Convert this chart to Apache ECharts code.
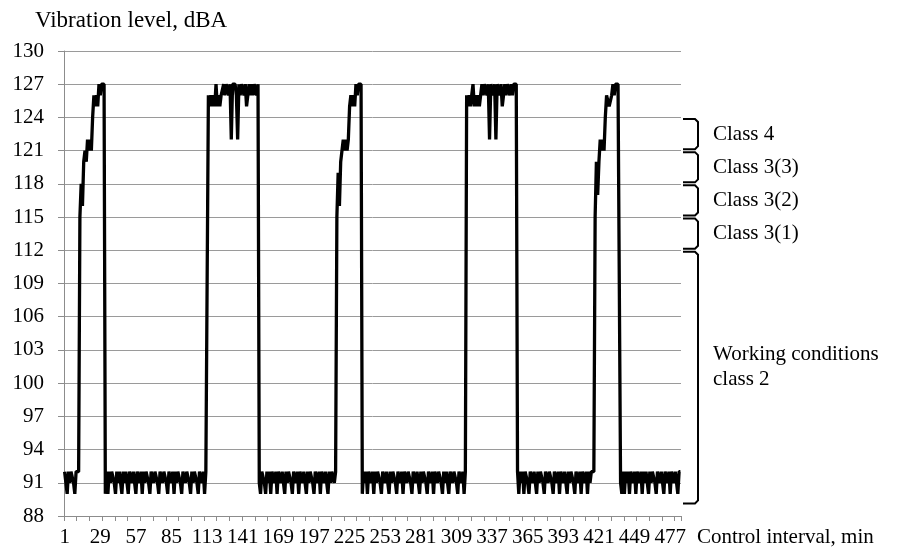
<!DOCTYPE html>
<html><head><meta charset="utf-8">
<script src="https://cdn.jsdelivr.net/npm/echarts@6/dist/echarts.min.js"></script>
<style>html,body{margin:0;padding:0;background:#fff}#c{width:901px;height:551px}</style>
</head><body><div id="c"></div>
<script>
// ---- data (vibration level, dBA, per control minute) ----
const base0 = [92, 92, 90, 92, 91, 92, 92, 91, 90, 92, 92, 92];
const peak1 = [115, 118, 116, 120, 121, 120, 122, 121, 122, 121, 124, 126, 125, 126, 125, 127, 126, 127, 127, 127];
const base1 = [
  90, 92, 90, 92, 91, 92, 92, 91, 90, 92,
  91, 92, 92, 90, 92, 91, 92, 92, 90, 92,
  92, 91, 92, 91, 90, 92, 92, 91, 92, 90,
  92, 91, 92, 92, 91, 90, 92, 92, 91, 92,
  92, 91, 90, 92, 92, 91, 92, 92, 91, 90,
  92, 92, 91, 92, 90, 92, 91, 92, 92, 91,
  90, 92, 92, 91, 92, 92, 91, 90, 92, 91,
  92, 92, 91, 90, 92, 92, 91, 92, 90, 92,
  92];
const peak2 = [
  126, 125, 126, 125, 126, 125, 127, 125, 126, 125,
  126, 126, 127, 126, 127, 127, 126, 127, 122, 127,
  127, 127, 126, 122, 127, 126, 127, 127, 126, 127,
  125, 126, 127, 126, 127, 126, 127, 127, 126, 127];
const base2 = [
  91, 90, 92, 92, 91, 90, 92, 91, 92, 90,
  92, 92, 91, 92, 90, 92, 92, 91, 92, 92,
  90, 92, 91, 92, 92, 91, 90, 92, 92, 91,
  92, 90, 92, 92, 91, 92, 92, 90, 92, 91,
  92, 92, 91, 90, 92, 92, 91, 92, 90, 92,
  92, 91, 92, 92, 90, 92, 91, 92, 92, 91,
  92];
const peak3 = [115, 119, 116, 120, 120, 122, 121, 122, 121, 122, 125, 126, 125, 126, 125, 127, 126, 127, 127, 127];
const base3 = [
  90, 92, 91, 92, 90, 92, 92, 91, 92, 90,
  92, 91, 92, 92, 91, 90, 92, 92, 91, 92,
  92, 90, 92, 91, 92, 92, 91, 90, 92, 92,
  91, 92, 90, 92, 92, 91, 92, 92, 91, 90,
  92, 92, 91, 92, 92, 90, 92, 91, 92, 92,
  91, 90, 92, 92, 91, 92, 90, 92, 92, 91,
  92, 92, 91, 90, 92, 91, 92, 92, 90, 92,
  92, 91, 92, 92, 91, 90, 92, 92, 91, 92,
  90, 92];
const peak4 = [
  126, 125, 126, 125, 126, 127, 125, 126, 125, 126,
  125, 126, 127, 126, 127, 127, 126, 127, 122, 127,
  127, 126, 127, 122, 127, 127, 126, 127, 125, 126,
  127, 126, 127, 127, 126, 127, 126, 127, 127, 127];
const base4 = [
  92, 90, 92, 91, 92, 90, 92, 92, 91, 90,
  92, 92, 91, 92, 92, 90, 92, 91, 92, 92,
  91, 90, 92, 92, 91, 92, 92, 91, 90, 92,
  92, 91, 92, 90, 92, 92, 91, 92, 92, 90,
  92, 91, 92, 92, 91, 90, 92, 92, 91, 92,
  90, 92, 92, 91, 92, 90, 92, 91, 92, 92,
  92];
const peak5 = [115, 120, 117, 120, 122, 121, 122, 121, 124, 126, 126, 125, 125, 126, 127, 126, 127, 127, 127, 127];
const base5 = [
  91, 90, 92, 90, 92, 91, 92, 90, 92, 92,
  91, 92, 90, 92, 92, 91, 92, 90, 92, 91,
  92, 92, 90, 92, 91, 92, 92, 91, 90, 92,
  92, 91, 92, 92, 90, 92, 92, 91, 92, 90,
  92, 92, 91, 92, 92, 90, 92, 92];

const levels = [].concat(base0, peak1, base1, peak2, base2, peak3, base3, peak4, base4, peak5, base5);
const categories = levels.map((_, i) => String(i + 1));   // control interval, min

const yMin = 88, yMax = 130, yStep = 3;
const labelEvery = 28;   // x labels 1, 29, 57, ...
const tickEvery = 10;

// class bands (dBA) shown with brackets on the right
const bandNames = ['Class 4', 'Class 3(3)', 'Class 3(2)', 'Class 3(1)', 'Working conditions\nclass 2'];
const bandTops = [124, 121, 118, 115, 112];
const bandBottoms = [121, 118, 115, 112, 89];
const bandLabelAt = [122.5, 119.5, 116.5, 113.5, 101.5];

// ---- styles ----
const FONT = "Liberation Serif, Times New Roman, DejaVu Serif, serif";
const GRID = {left: 64, right: 220, top: 51, bottom: 35};

const chart = echarts.init(document.getElementById('c'), null, {renderer: 'canvas'});
const option = {
  animation: false,
  backgroundColor: '#fff',
  textStyle: {fontFamily: FONT},
  title: {
    text: 'Vibration level, dBA', left: 35, top: 9, padding: 0,
    textStyle: {fontFamily: FONT, fontSize: 23, fontWeight: 'normal', color: '#000'}
  },
  grid: GRID,
  xAxis: {
    type: 'category', data: categories, boundaryGap: true,
    name: 'Control interval, min', nameLocation: 'end', nameGap: 16,
    nameTextStyle: {fontFamily: FONT, fontSize: 21, color: '#000', verticalAlign: 'top', padding: [11, 0, 0, 0]},
    axisLine: {lineStyle: {color: '#8c8c8c', width: 1}},
    axisTick: {show: true, interval: tickEvery - 1, length: 5, lineStyle: {color: '#8c8c8c'}},
    axisLabel: {interval: labelEvery - 1, margin: 11, fontFamily: FONT, fontSize: 21, color: '#000', hideOverlap: false},
    splitLine: {show: false}
  },
  yAxis: {
    type: 'value', min: yMin, max: yMax, interval: yStep,
    axisLine: {show: true, lineStyle: {color: '#8c8c8c', width: 1}},
    axisTick: {show: true, length: 6, lineStyle: {color: '#8c8c8c'}},
    axisLabel: {margin: 20, fontFamily: FONT, fontSize: 21, color: '#000'},
    splitLine: {show: true, lineStyle: {color: '#9a9a9a', width: 1}}
  },
  series: [{
    type: 'line', data: levels, showSymbol: false, symbol: 'none',
    lineStyle: {color: '#000', width: 3.3, join: 'bevel'},
    sampling: null, z: 3
  }]
};
chart.setOption(option);

// brackets + class labels, placed through the y scale
const plotRight = 901 - GRID.right;
const x0 = plotRight + 2, x1 = plotRight + 17;
const els = [];
for (let i = 0; i < bandNames.length; i++) {
  const yt = chart.convertToPixel({yAxisIndex: 0}, bandTops[i]) + 1.5;
  const yb = chart.convertToPixel({yAxisIndex: 0}, bandBottoms[i]) - 1.5;
  els.push({
    type: 'polyline',
    shape: {points: [[x0, yt], [x1 - 3, yt], [x1, yt + 3], [x1, yb - 3], [x1 - 3, yb], [x0, yb]]},
    style: {stroke: '#000', lineWidth: 2, fill: null}
  });
  const yl = chart.convertToPixel({yAxisIndex: 0}, bandLabelAt[i]);
  els.push({
    type: 'text', x: plotRight + 32, y: yl,
    style: {text: bandNames[i], fontFamily: FONT, fontSize: 21, fill: '#000',
            verticalAlign: 'middle', lineHeight: 25}
  });
}
chart.setOption({graphic: {elements: els}});
</script>
</body></html>
